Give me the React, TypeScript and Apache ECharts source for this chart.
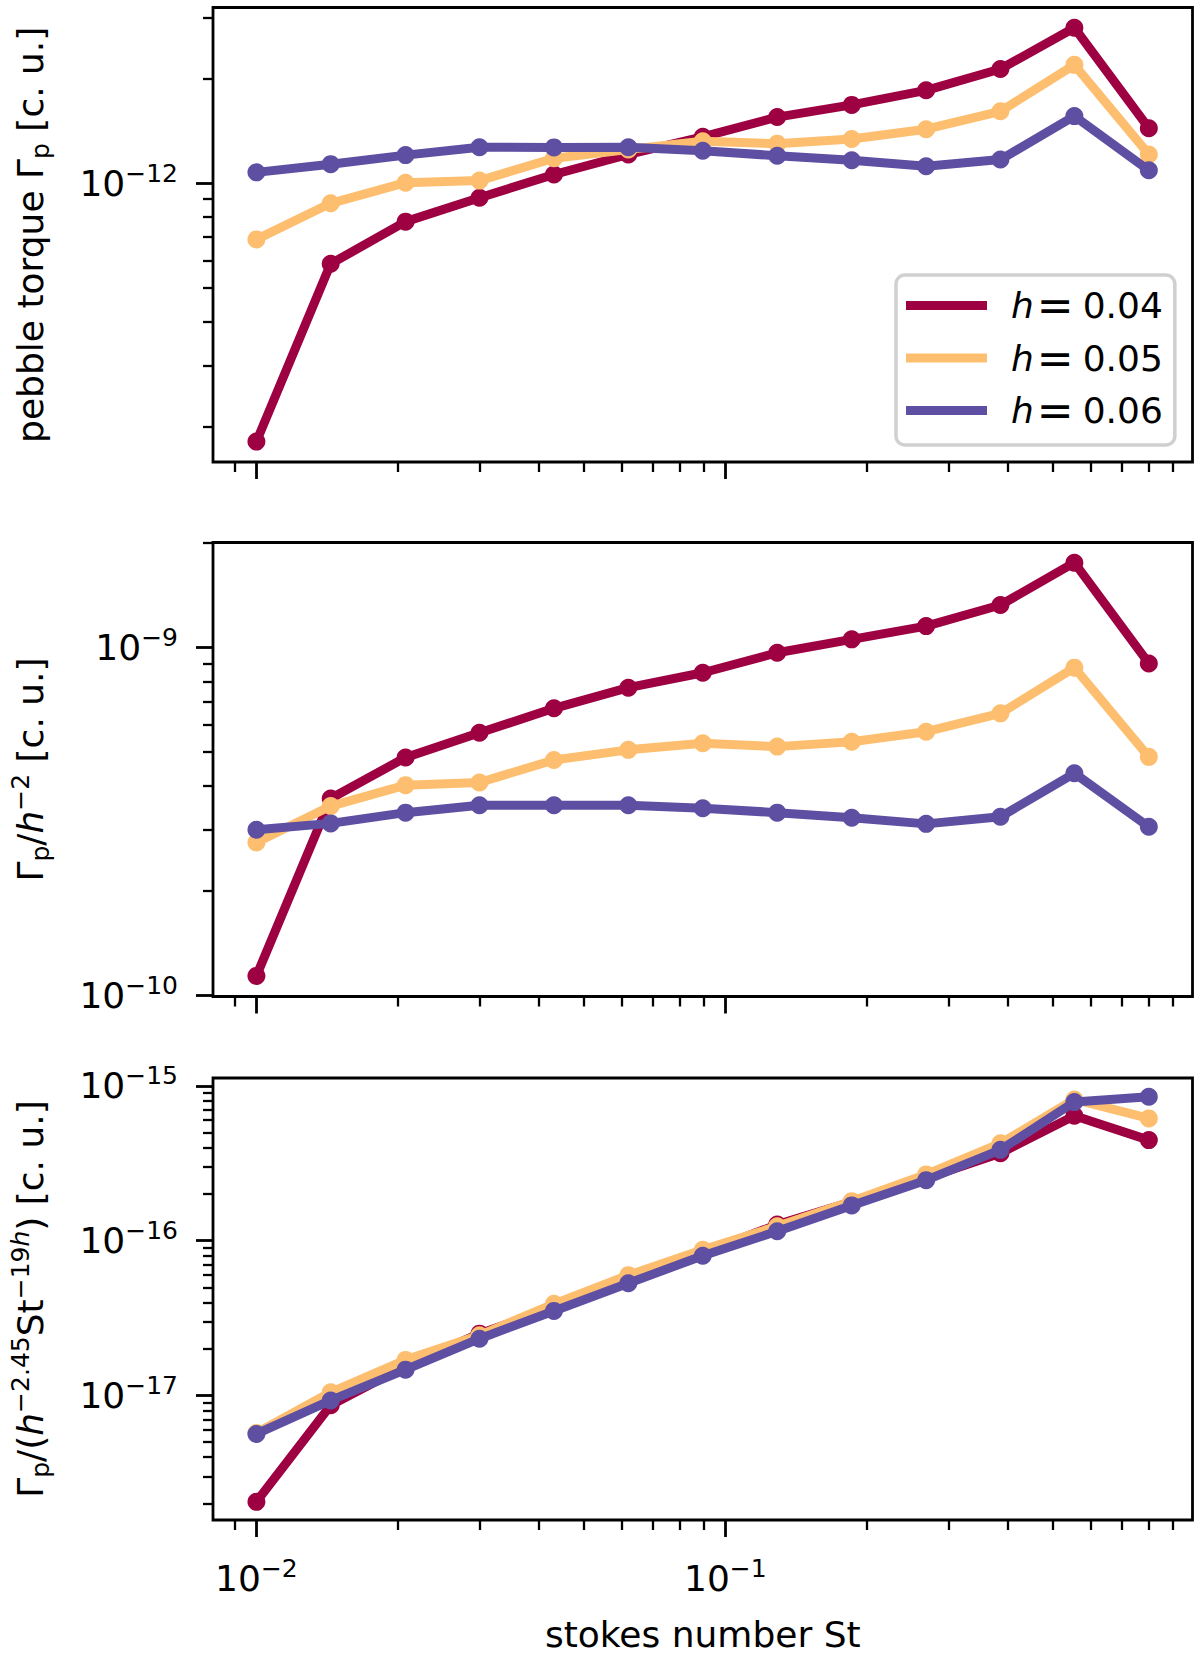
import { useEffect, useRef } from 'react';
import * as echarts from 'echarts';

// stokes numbers (x), shared by all panels
const ST = [0.01, 0.0144, 0.0208, 0.0299, 0.0431, 0.0621, 0.0895, 0.129, 0.186, 0.268, 0.386, 0.555, 0.8];

const SERIES_NAMES = ['h = 0.04', 'h = 0.05', 'h = 0.06'];
const COLORS = ['#9e0142', '#fdbf6f', '#5e4fa2'];

// panel 1: pebble torque
const TORQUE_H004 = [1.81e-13, 5.87e-13, 7.76e-13, 9.09e-13, 1.06e-12, 1.21e-12, 1.36e-12, 1.55e-12, 1.68e-12, 1.85e-12, 2.13e-12, 2.8e-12, 1.44e-12];
const TORQUE_H005 = [6.9e-13, 8.76e-13, 1.004e-12, 1.018e-12, 1.18e-12, 1.25e-12, 1.32e-12, 1.3e-12, 1.34e-12, 1.43e-12, 1.61e-12, 2.19e-12, 1.21e-12];
const TORQUE_H006 = [1.075e-12, 1.135e-12, 1.205e-12, 1.27e-12, 1.268e-12, 1.27e-12, 1.24e-12, 1.2e-12, 1.165e-12, 1.12e-12, 1.17e-12, 1.56e-12, 1.09e-12];

// panel 2: torque / h^-2
const SCALED_H004 = [1.135e-10, 3.68e-10, 4.83e-10, 5.69e-10, 6.69e-10, 7.67e-10, 8.47e-10, 9.67e-10, 1.057e-9, 1.154e-9, 1.327e-9, 1.757e-9, 9.01e-10];
const SCALED_H005 = [2.75e-10, 3.5e-10, 4.02e-10, 4.09e-10, 4.75e-10, 5.08e-10, 5.31e-10, 5.19e-10, 5.36e-10, 5.73e-10, 6.47e-10, 8.76e-10, 4.85e-10];
const SCALED_H006 = [2.99e-10, 3.12e-10, 3.35e-10, 3.52e-10, 3.52e-10, 3.52e-10, 3.45e-10, 3.35e-10, 3.24e-10, 3.11e-10, 3.26e-10, 4.35e-10, 3.05e-10];

// panel 3: torque / (h^-2.45 St^-19h)
const NORM_H004 = [2.06e-18, 8.65e-18, 1.55e-17, 2.51e-17, 3.68e-17, 5.65e-17, 8.3e-17, 1.27e-16, 1.78e-16, 2.53e-16, 3.67e-16, 6.41e-16, 4.46e-16];
const NORM_H005 = [5.73e-18, 1.05e-17, 1.7e-17, 2.45e-17, 3.91e-17, 5.99e-17, 8.73e-17, 1.24e-16, 1.8e-16, 2.68e-16, 4.25e-16, 8.16e-16, 6.16e-16];
const NORM_H006 = [5.65e-18, 9.3e-18, 1.47e-17, 2.33e-17, 3.52e-17, 5.31e-17, 8.0e-17, 1.15e-16, 1.69e-16, 2.46e-16, 3.86e-16, 7.85e-16, 8.49e-16];

// tick positions
const X_MAJOR = [0.01, 0.1];
const X_MINOR = [0.009, 0.02, 0.03, 0.04, 0.05, 0.06, 0.07, 0.08, 0.09, 0.2, 0.3, 0.4, 0.5, 0.6, 0.7, 0.8, 0.9];
const Y1_MAJOR = [1e-12];
const Y1_MINOR = [2e-13, 3e-13, 4e-13, 5e-13, 6e-13, 7e-13, 8e-13, 9e-13, 2e-12, 3e-12];
const Y2_MAJOR = [1e-10, 1e-9];
const Y2_MINOR = [2e-10, 3e-10, 4e-10, 5e-10, 6e-10, 7e-10, 8e-10, 9e-10, 2e-9];
const Y3_MAJOR = [1e-17, 1e-16, 1e-15];
const Y3_MINOR = [
  2e-18, 3e-18, 4e-18, 5e-18, 6e-18, 7e-18, 8e-18, 9e-18,
  2e-17, 3e-17, 4e-17, 5e-17, 6e-17, 7e-17, 8e-17, 9e-17,
  2e-16, 3e-16, 4e-16, 5e-16, 6e-16, 7e-16, 8e-16, 9e-16,
];

// axis extents as log10 exponents
const X_RANGE: [number, number] = [-2.0926, -0.0038];
const Y_RANGES: [number, number][] = [
  [-12.8009, -11.4948],
  [-10.0043, -8.6971],
  [-17.8034, -14.9496],
];

const FONT = 'DejaVu Sans';
const FS = 36;
const LH = 45;

const RICH = {
  b: { fontSize: FS, lineHeight: LH, fontFamily: FONT, color: '#000' },
  s: { fontSize: 25, lineHeight: 25, verticalAlign: 'top', fontFamily: FONT, color: '#000' },
  si: { fontSize: 25, lineHeight: 25, verticalAlign: 'top', fontStyle: 'italic', fontFamily: FONT, color: '#000' },
  sub: { fontSize: 25, lineHeight: 33, verticalAlign: 'bottom', fontFamily: FONT, color: '#000' },
  i: { fontSize: FS, lineHeight: LH, fontStyle: 'italic', fontFamily: FONT, color: '#000' },
};

const Y_NAMES = [
  'pebble torque Γ{sub|p} [c. u.]',
  'Γ{sub|p}/{i|h}{s|−2} [c. u.]',
  'Γ{sub|p}/({i|h}{s|−2.45}St{s|−19}{si|h}) [c. u.]',
];

const GRIDS = [
  { left: 211, top: 7.5, width: 981.5, height: 454.5 },
  { left: 211, top: 542.5, width: 981.5, height: 454 },
  { left: 211, top: 1078, width: 981.5, height: 453.5 },
];

const powLabel = (v: number) => `{b|10}{s|−${Math.abs(Math.round(v))}}`;

export default function App() {
  const ref = useRef<HTMLDivElement>(null);

  useEffect(() => {
    if (!ref.current) return;
    const chart = echarts.init(ref.current, undefined, { renderer: 'svg' });

    const panels = [
      [TORQUE_H004, TORQUE_H005, TORQUE_H006],
      [SCALED_H004, SCALED_H005, SCALED_H006],
      [NORM_H004, NORM_H005, NORM_H006],
    ];
    const yMajors = [Y1_MAJOR, Y2_MAJOR, Y3_MAJOR];
    const yMinors = [Y1_MINOR, Y2_MINOR, Y3_MINOR];

    const xAxis: any[] = [];
    const yAxis: any[] = [];
    const series: any[] = [];

    panels.forEach((vals, g) => {
      const last = g === panels.length - 1;
      // data axes (log scale, hidden)
      xAxis.push({
        type: 'log', gridIndex: g, show: false,
        min: Math.pow(10, X_RANGE[0]), max: Math.pow(10, X_RANGE[1]),
      });
      // major ticks
      xAxis.push({
        type: 'value', gridIndex: g, position: 'bottom',
        min: X_RANGE[0], max: X_RANGE[1],
        axisLine: { show: false, onZero: false },
        splitLine: { show: false },
        axisTick: {
          show: true, length: 17, customValues: X_MAJOR.map(Math.log10),
          lineStyle: { color: '#000', width: 2.8 },
        },
        axisLabel: {
          show: last, margin: 36, customValues: X_MAJOR.map(Math.log10),
          formatter: powLabel, rich: RICH,
        },
        name: last ? 'stokes number St' : '',
        nameLocation: 'middle', nameGap: 92,
        nameTextStyle: { fontSize: FS, fontFamily: FONT, color: '#000', lineHeight: LH },
      });
      // minor ticks
      xAxis.push({
        type: 'value', gridIndex: g, position: 'bottom',
        min: X_RANGE[0], max: X_RANGE[1],
        axisLine: { show: false, onZero: false },
        splitLine: { show: false },
        axisTick: {
          show: true, length: 10, customValues: X_MINOR.map(Math.log10),
          lineStyle: { color: '#000', width: 2.3 },
        },
        axisLabel: { show: false },
      });

      const yr = Y_RANGES[g];
      yAxis.push({
        type: 'log', gridIndex: g, show: false,
        min: Math.pow(10, yr[0]), max: Math.pow(10, yr[1]),
      });
      yAxis.push({
        type: 'value', gridIndex: g, position: 'left',
        min: yr[0], max: yr[1],
        axisLine: { show: false, onZero: false },
        splitLine: { show: false },
        axisTick: {
          show: true, length: 17, customValues: yMajors[g].map(Math.log10),
          lineStyle: { color: '#000', width: 2.8 },
        },
        axisLabel: {
          show: true, margin: 35, customValues: yMajors[g].map(Math.log10),
          formatter: powLabel, rich: RICH,
        },
        name: Y_NAMES[g],
        nameLocation: 'middle', nameGap: 160, nameRotate: 90,
        nameTextStyle: { fontSize: FS, fontFamily: FONT, color: '#000', lineHeight: LH, rich: RICH },
      });
      yAxis.push({
        type: 'value', gridIndex: g, position: 'left',
        min: yr[0], max: yr[1],
        axisLine: { show: false, onZero: false },
        splitLine: { show: false },
        axisTick: {
          show: true, length: 10, customValues: yMinors[g].map(Math.log10),
          lineStyle: { color: '#000', width: 2.3 },
        },
        axisLabel: { show: false },
      });

      vals.forEach((ys, k) => {
        series.push({
          type: 'line',
          name: SERIES_NAMES[k],
          xAxisIndex: g * 3,
          yAxisIndex: g * 3,
          data: ST.map((x, i) => [x, ys[i]]),
          symbol: 'circle',
          symbolSize: 18,
          showAllSymbol: true,
          lineStyle: { color: COLORS[k], width: 9 },
          itemStyle: { color: COLORS[k] },
          emphasis: { disabled: true },
          z: 2 + k,
        });
      });
    });

    chart.setOption({
      animation: false,
      textStyle: { fontFamily: FONT },
      grid: GRIDS.map((r) => ({
        ...r, show: true, borderColor: '#000', borderWidth: 2.8,
        backgroundColor: 'transparent', containLabel: false,
      })),
      xAxis,
      yAxis,
      legend: {
        data: SERIES_NAMES,
        orient: 'vertical',
        left: 896,
        top: 275,
        itemWidth: 81,
        itemHeight: 9,
        itemGap: 7.5,
        icon: 'rect',
        padding: [8, 12, 12, 10],
        backgroundColor: 'rgba(255,255,255,0.8)',
        borderColor: '#d0d0d0',
        borderWidth: 3.5,
        borderRadius: 9,
        selectedMode: false,
        formatter: (name: string) => `{i|h}{e|=}{n|${name.slice(4)}}`,
        textStyle: {
          fontSize: FS, fontFamily: FONT, color: '#000', lineHeight: LH,
          rich: {
            i: { fontSize: FS, fontStyle: 'italic', fontFamily: FONT, color: '#000', lineHeight: LH, padding: [0, 0, 0, 19] },
            e: { fontSize: 44, fontFamily: FONT, color: '#000', lineHeight: LH, padding: [0, 9, 0, 3] },
            n: { fontSize: FS, fontFamily: FONT, color: '#000', lineHeight: LH },
          },
        },
      },
      series,
    } as echarts.EChartsOption);

    return () => chart.dispose();
  }, []);

  return (
    <div
      ref={ref}
      style={{ position: 'absolute', left: 0, top: 0, width: 1200, height: 1658, background: '#fff' }}
    />
  );
}
